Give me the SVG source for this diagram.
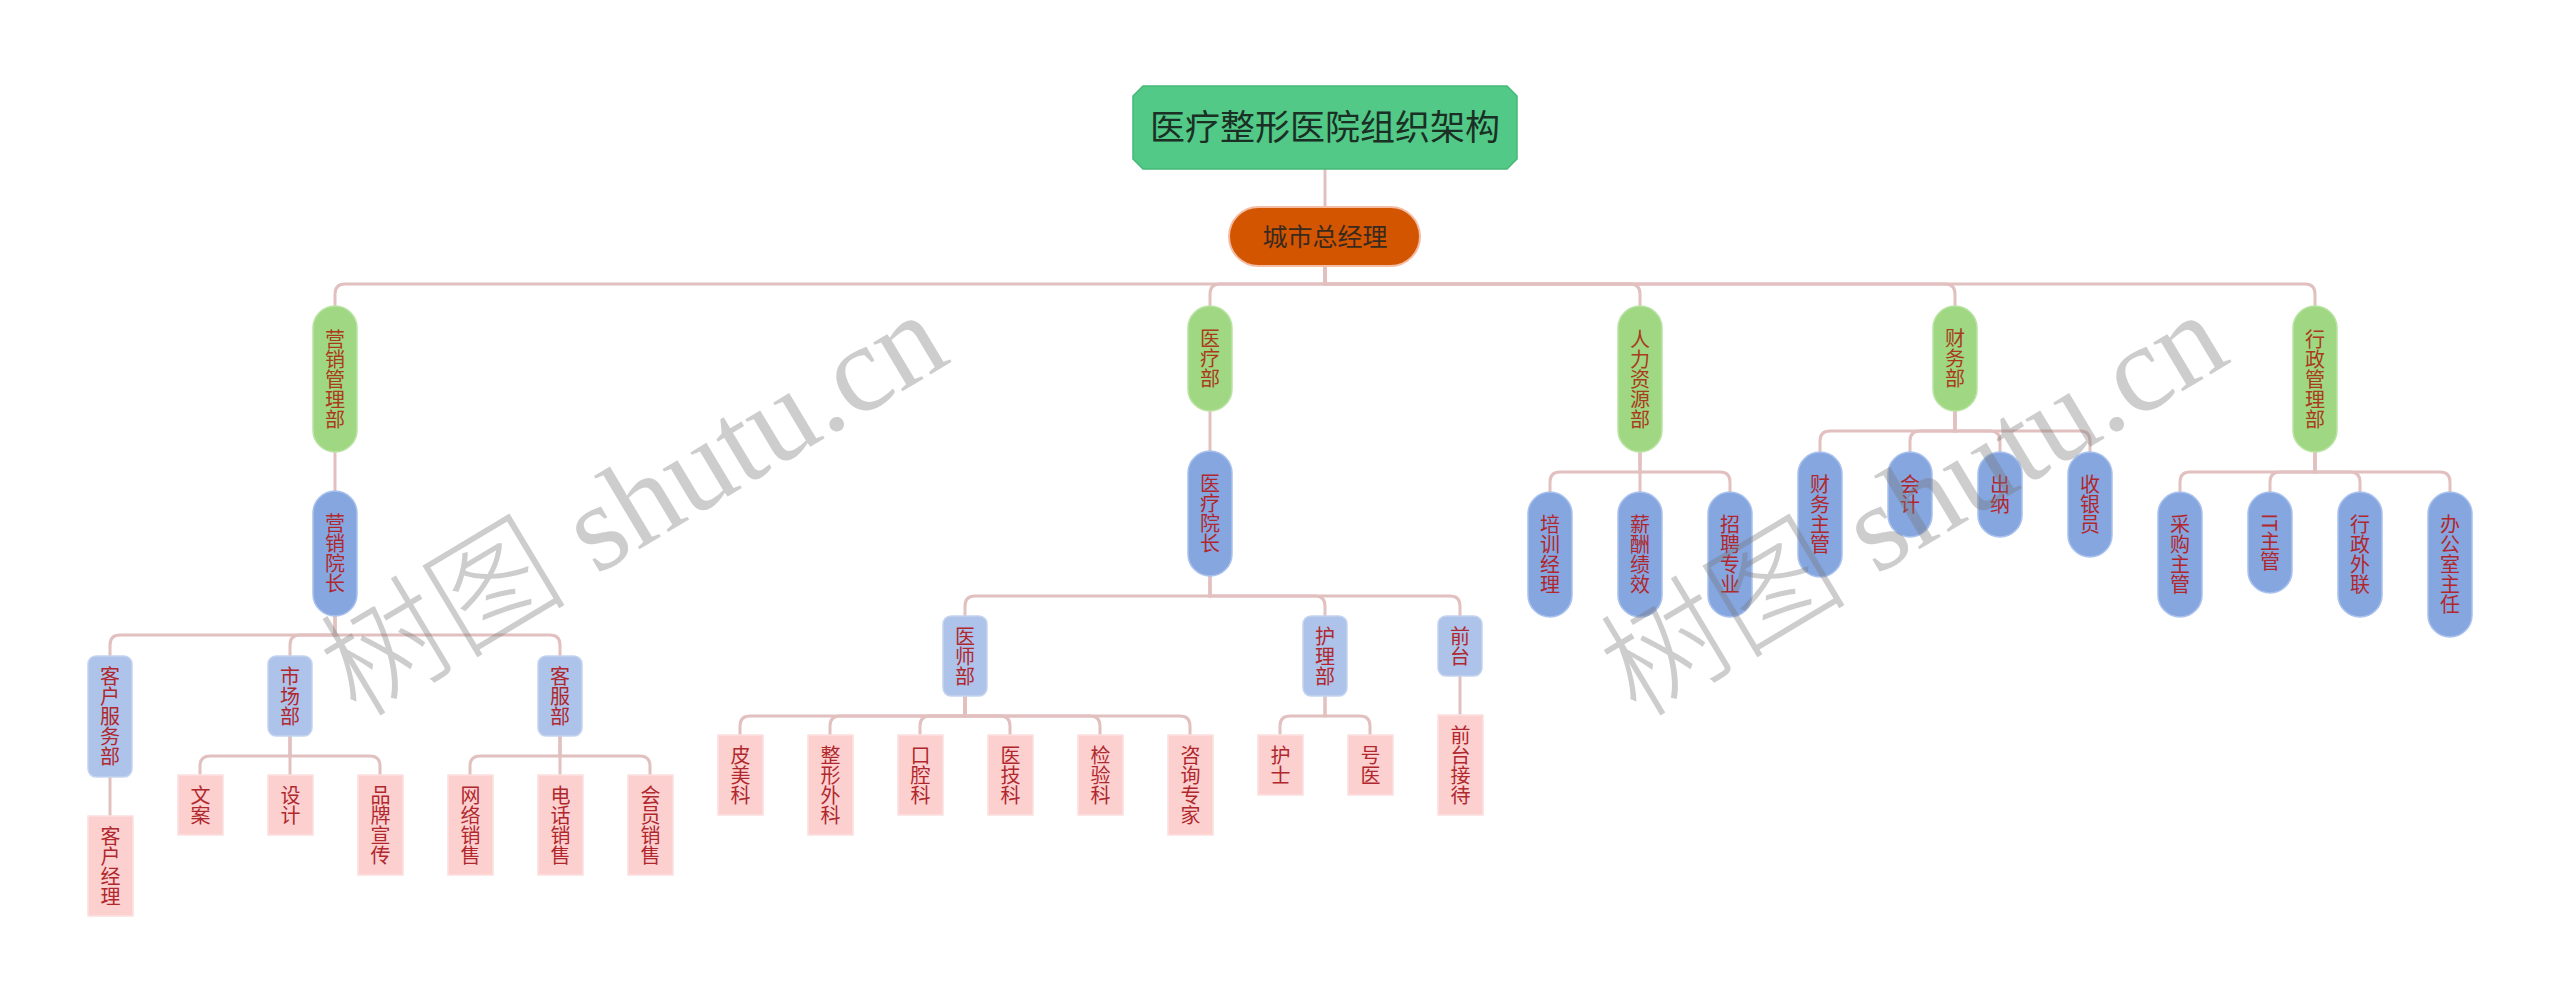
<svg xmlns="http://www.w3.org/2000/svg" width="2560" height="1004" viewBox="0 0 2560 1004">
<style>
  .ln{fill:none;stroke:#e2c0c0;stroke-width:3}
  .t{font-family:"Noto Sans CJK SC","Noto Sans",sans-serif;font-size:20px;writing-mode:vertical-rl;text-anchor:middle}
  .g{fill:#9fd782;stroke:#b9e3a2;stroke-width:1.5}
  .gt{fill:#a83c1c}
  .b{fill:#86a6e0;stroke:#a9c1ec;stroke-width:1.5}
  .lb{fill:#adc3ea;stroke:#c4d4f0;stroke-width:1.5}
  .p{fill:#fdd0d0;stroke:#fbe0e0;stroke-width:1.5}
  .rt{fill:#b0282e}
  .wm{font-size:124px;fill:#777;opacity:0.36}
</style>
<rect width="2560" height="1004" fill="#ffffff"/>
<g id="connectors">
  <path class="ln" d="M1325 169 V207"/>
  <path class="ln" d="M1325 266 V284 H345 Q335 284 335 294 V306"/>
  <path class="ln" d="M1325 266 V284 H1220 Q1210 284 1210 294 V306"/>
  <path class="ln" d="M1325 266 V284 H1630 Q1640 284 1640 294 V306"/>
  <path class="ln" d="M1325 266 V284 H1945 Q1955 284 1955 294 V306"/>
  <path class="ln" d="M1325 266 V284 H2305 Q2315 284 2315 294 V306"/>
  <path class="ln" d="M335 452 V491"/>
  <path class="ln" d="M335 616 V635 H120 Q110 635 110 645 V656"/>
  <path class="ln" d="M335 616 V635 H300 Q290 635 290 645 V656"/>
  <path class="ln" d="M335 616 V635 H550 Q560 635 560 645 V656"/>
  <path class="ln" d="M110 777 V816"/>
  <path class="ln" d="M290 736 V756 H210 Q200 756 200 766 V775"/>
  <path class="ln" d="M290 736 V775"/>
  <path class="ln" d="M290 736 V756 H370 Q380 756 380 766 V775"/>
  <path class="ln" d="M560 736 V756 H480 Q470 756 470 766 V775"/>
  <path class="ln" d="M560 736 V775"/>
  <path class="ln" d="M560 736 V756 H640 Q650 756 650 766 V775"/>
  <path class="ln" d="M1210 411 V451"/>
  <path class="ln" d="M1210 576 V596 H975 Q965 596 965 606 V616"/>
  <path class="ln" d="M1210 576 V596 H1315 Q1325 596 1325 606 V616"/>
  <path class="ln" d="M1210 576 V596 H1450 Q1460 596 1460 606 V616"/>
  <path class="ln" d="M965 696 V716 H750 Q740 716 740 726 V735"/>
  <path class="ln" d="M965 696 V716 H840 Q830 716 830 726 V735"/>
  <path class="ln" d="M965 696 V716 H930 Q920 716 920 726 V735"/>
  <path class="ln" d="M965 696 V716 H1000 Q1010 716 1010 726 V735"/>
  <path class="ln" d="M965 696 V716 H1090 Q1100 716 1100 726 V735"/>
  <path class="ln" d="M965 696 V716 H1180 Q1190 716 1190 726 V735"/>
  <path class="ln" d="M1325 696 V716 H1290 Q1280 716 1280 726 V735"/>
  <path class="ln" d="M1325 696 V716 H1360 Q1370 716 1370 726 V735"/>
  <path class="ln" d="M1460 676 V715"/>
  <path class="ln" d="M1640 452 V472 H1560 Q1550 472 1550 482 V492"/>
  <path class="ln" d="M1640 452 V492"/>
  <path class="ln" d="M1640 452 V472 H1720 Q1730 472 1730 482 V492"/>
  <path class="ln" d="M1955 411 V431 H1830 Q1820 431 1820 441 V452"/>
  <path class="ln" d="M1955 411 V431 H1920 Q1910 431 1910 441 V452"/>
  <path class="ln" d="M1955 411 V431 H1990 Q2000 431 2000 441 V452"/>
  <path class="ln" d="M1955 411 V431 H2080 Q2090 431 2090 441 V452"/>
  <path class="ln" d="M2315 452 V472 H2190 Q2180 472 2180 482 V492"/>
  <path class="ln" d="M2315 452 V472 H2280 Q2270 472 2270 482 V492"/>
  <path class="ln" d="M2315 452 V472 H2350 Q2360 472 2360 482 V492"/>
  <path class="ln" d="M2315 452 V472 H2440 Q2450 472 2450 482 V492"/>
</g>
<g id="root">
  <polygon points="1143,86 1507,86 1517,96 1517,159 1507,169 1143,169 1133,159 1133,96" fill="#52c987" stroke="#45b877" stroke-width="1.5"/>
  <text x="1325" y="140" font-family="Noto Sans CJK SC, sans-serif" font-size="35" fill="#1a3024" text-anchor="middle">医疗整形医院组织架构</text>
</g>
<g id="city">
  <rect x="1229" y="207" width="191" height="59" rx="29.5" fill="#d45500" stroke="#f3bca4" stroke-width="2"/>
  <text x="1325" y="246" font-family="Noto Sans CJK SC, sans-serif" font-size="25" fill="#3a2a1e" text-anchor="middle">城市总经理</text>
</g>
<g id="n-yx"><rect class="g" x="313" y="306" width="44" height="146" rx="22"/><text class="t gt" x="335" y="379">营销管理部</text></g>
<g id="n-yl"><rect class="g" x="1188" y="306" width="44" height="105" rx="22"/><text class="t gt" x="1210" y="358.5">医疗部</text></g>
<g id="n-rl"><rect class="g" x="1618" y="306" width="44" height="146" rx="22"/><text class="t gt" x="1640" y="379">人力资源部</text></g>
<g id="n-cw"><rect class="g" x="1933" y="306" width="44" height="105" rx="22"/><text class="t gt" x="1955" y="358.5">财务部</text></g>
<g id="n-xz"><rect class="g" x="2293" y="306" width="44" height="146" rx="22"/><text class="t gt" x="2315" y="379">行政管理部</text></g>

<g id="n-yxyz"><rect class="b" x="313" y="491" width="44" height="125" rx="22"/><text class="t rt" x="335" y="553.5">营销院长</text></g>
<g id="n-ylyz"><rect class="b" x="1188" y="451" width="44" height="125" rx="22"/><text class="t rt" x="1210" y="513.5">医疗院长</text></g>
<g id="n-px"><rect class="b" x="1528" y="492" width="44" height="125" rx="22"/><text class="t rt" x="1550" y="554.5">培训经理</text></g>
<g id="n-xc"><rect class="b" x="1618" y="492" width="44" height="125" rx="22"/><text class="t rt" x="1640" y="554.5">薪酬绩效</text></g>
<g id="n-zp"><rect class="b" x="1708" y="492" width="44" height="125" rx="22"/><text class="t rt" x="1730" y="554.5">招聘专业</text></g>
<g id="n-cwzg"><rect class="b" x="1798" y="452" width="44" height="125" rx="22"/><text class="t rt" x="1820" y="514.5">财务主管</text></g>
<g id="n-kj"><rect class="b" x="1888" y="452" width="44" height="85" rx="22"/><text class="t rt" x="1910" y="494.5">会计</text></g>
<g id="n-cn"><rect class="b" x="1978" y="452" width="44" height="85" rx="22"/><text class="t rt" x="2000" y="494.5">出纳</text></g>
<g id="n-syy"><rect class="b" x="2068" y="452" width="44" height="105" rx="22"/><text class="t rt" x="2090" y="504.5">收银员</text></g>
<g id="n-cg"><rect class="b" x="2158" y="492" width="44" height="125" rx="22"/><text class="t rt" x="2180" y="554.5">采购主管</text></g>
<g id="n-it"><rect class="b" x="2248" y="492" width="44" height="101" rx="22"/><text class="t rt" x="2270" y="542.5">IT主管</text></g>
<g id="n-wl"><rect class="b" x="2338" y="492" width="44" height="125" rx="22"/><text class="t rt" x="2360" y="554.5">行政外联</text></g>
<g id="n-bgs"><rect class="b" x="2428" y="492" width="44" height="145" rx="22"/><text class="t rt" x="2450" y="564.5">办公室主任</text></g>

<g id="n-khfw"><rect class="lb" x="88" y="656" width="44" height="121" rx="8"/><text class="t rt" x="110" y="716.5">客户服务部</text></g>
<g id="n-sc"><rect class="lb" x="268" y="656" width="44" height="80" rx="8"/><text class="t rt" x="290" y="696">市场部</text></g>
<g id="n-kf"><rect class="lb" x="538" y="656" width="44" height="80" rx="8"/><text class="t rt" x="560" y="696">客服部</text></g>
<g id="n-ys"><rect class="lb" x="943" y="616" width="44" height="80" rx="8"/><text class="t rt" x="965" y="656">医师部</text></g>
<g id="n-hl"><rect class="lb" x="1303" y="616" width="44" height="80" rx="8"/><text class="t rt" x="1325" y="656">护理部</text></g>
<g id="n-qt"><rect class="lb" x="1438" y="616" width="44" height="60" rx="8"/><text class="t rt" x="1460" y="646">前台</text></g>

<g id="n-khjl"><rect class="p" x="88" y="816" width="45" height="100"/><text class="t rt" x="110.5" y="866">客户经理</text></g>
<g id="n-wa"><rect class="p" x="178" y="775" width="45" height="60"/><text class="t rt" x="200.5" y="805">文案</text></g>
<g id="n-sj"><rect class="p" x="268" y="775" width="45" height="60"/><text class="t rt" x="290.5" y="805">设计</text></g>
<g id="n-pp"><rect class="p" x="358" y="775" width="45" height="100"/><text class="t rt" x="380.5" y="825">品牌宣传</text></g>
<g id="n-wlxs"><rect class="p" x="448" y="775" width="45" height="100"/><text class="t rt" x="470.5" y="825">网络销售</text></g>
<g id="n-dhxs"><rect class="p" x="538" y="775" width="45" height="100"/><text class="t rt" x="560.5" y="825">电话销售</text></g>
<g id="n-hyxs"><rect class="p" x="628" y="775" width="45" height="100"/><text class="t rt" x="650.5" y="825">会员销售</text></g>
<g id="n-pm"><rect class="p" x="718" y="735" width="45" height="80"/><text class="t rt" x="740.5" y="775">皮美科</text></g>
<g id="n-zx"><rect class="p" x="808" y="735" width="45" height="100"/><text class="t rt" x="830.5" y="785">整形外科</text></g>
<g id="n-kq"><rect class="p" x="898" y="735" width="45" height="80"/><text class="t rt" x="920.5" y="775">口腔科</text></g>
<g id="n-yj"><rect class="p" x="988" y="735" width="45" height="80"/><text class="t rt" x="1010.5" y="775">医技科</text></g>
<g id="n-jy"><rect class="p" x="1078" y="735" width="45" height="80"/><text class="t rt" x="1100.5" y="775">检验科</text></g>
<g id="n-zxzj"><rect class="p" x="1168" y="735" width="45" height="100"/><text class="t rt" x="1190.5" y="785">咨询专家</text></g>
<g id="n-hs"><rect class="p" x="1258" y="735" width="45" height="60"/><text class="t rt" x="1280.5" y="765">护士</text></g>
<g id="n-hy"><rect class="p" x="1348" y="735" width="45" height="60"/><text class="t rt" x="1370.5" y="765">号医</text></g>
<g id="n-qtjd"><rect class="p" x="1438" y="715" width="45" height="100"/><text class="t rt" x="1460.5" y="765">前台接待</text></g>

<g id="watermark">
  <text class="wm" x="655" y="540" text-anchor="middle" transform="rotate(-31 655 540)"><tspan font-family="Noto Sans CJK SC, sans-serif" font-weight="300">树图</tspan><tspan font-family="Liberation Serif, serif"> shutu.cn</tspan></text>
  <text class="wm" x="1935" y="540" text-anchor="middle" transform="rotate(-31 1935 540)"><tspan font-family="Noto Sans CJK SC, sans-serif" font-weight="300">树图</tspan><tspan font-family="Liberation Serif, serif"> shutu.cn</tspan></text>
</g>
</svg>
